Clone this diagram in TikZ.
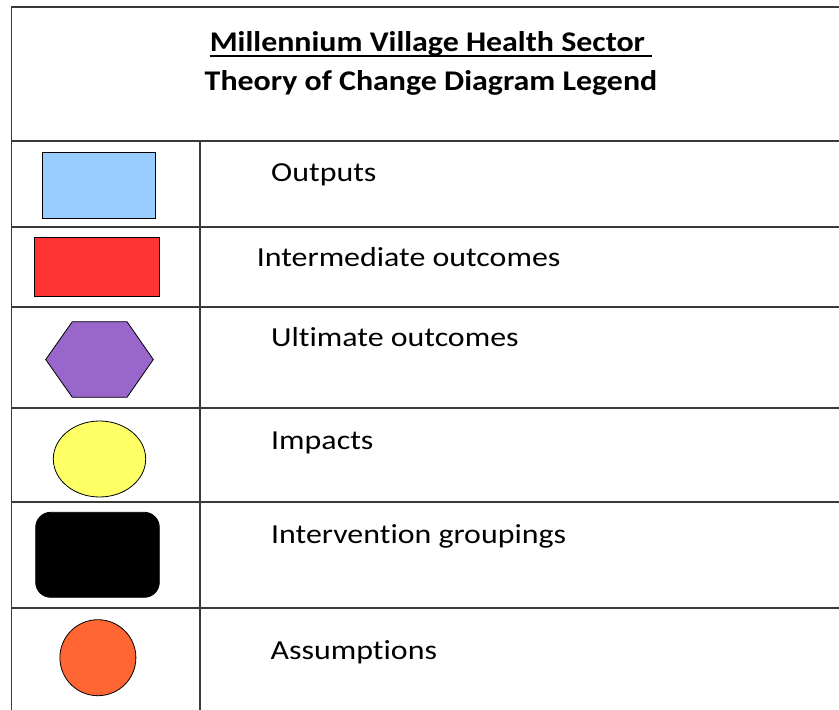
\documentclass[tikz,border=0pt]{standalone}
\usepackage{fontspec}
\setmainfont{Carlito}[Ligatures=NoCommon, FakeStretch=1.16, BoldFeatures={FakeStretch=1.12}]
\usetikzlibrary{shapes.geometric}
\definecolor{outblue}{HTML}{99CCFF}
\definecolor{interred}{HTML}{FF3333}
\definecolor{ultpurple}{HTML}{9966CC}
\definecolor{impyellow}{HTML}{FFFF66}
\definecolor{assorange}{HTML}{FF6633}
\definecolor{gridgray}{HTML}{3A3A3A}
\newcommand\myuline[1]{\setbox0\hbox{#1}\rlap{\vrule height -3.2bp depth 5.2bp width \wd0}\box0}
\tikzset{
  gridline/.style={draw=gridgray, line width=1.6bp},
  legshape/.style={draw=black, line width=0.8bp, inner sep=0pt, outer sep=0pt},
  legtext/.style={anchor=base west, inner sep=0pt, font=\fontsize{27.5bp}{33bp}\selectfont},
  titletext/.style={anchor=base, inner sep=0pt, font=\fontsize{28.5bp}{34bp}\selectfont\bfseries}
}
\begin{document}
\begin{tikzpicture}[x=1bp,y=-1bp]
\useasboundingbox (0,0) rectangle (839,710);
% table grid
\draw[gridline] (839,7) -- (11.5,7) -- (11.5,710);
\draw[gridline] (11.5,141) -- (839,141);
\draw[gridline] (200,141) -- (200,710);
\foreach \yy in {227,307,408,502,608} \draw[gridline] (11.5,\yy) -- (839,\yy);
% title
\node[titletext] (t1) at (431,51.7) {\myuline{Millennium Village Health Sector\ }};
\node[titletext] (t2) at (431,90.7) {Theory of Change Diagram Legend};
% shapes
\node[legshape, rectangle, fill=outblue, minimum width=113.4bp, minimum height=66bp] (s1) at (99,185.3) {};
\node[legshape, rectangle, fill=interred, minimum width=125.7bp, minimum height=59bp] (s2) at (96.8,266.8) {};
\filldraw[legshape, fill=ultpurple] (45.7,359.5) -- (72.3,321.7) -- (127,321.7) -- (153.3,359.5) -- (127,397.3) -- (72.3,397.3) -- cycle;
\node[legshape, ellipse, fill=impyellow, minimum width=92.4bp, minimum height=76bp] (s4) at (99.5,459) {};
\node[legshape, rectangle, rounded corners=15bp, fill=black, minimum width=123.6bp, minimum height=85bp] (s5) at (97.5,554.8) {};
\node[legshape, circle, fill=assorange, minimum size=76bp] (s6) at (97.9,657.7) {};
% labels
\node[legtext] (l1) at (271,181) {Outputs};
\node[legtext] (l2) at (256.7,266.7) {Intermediate outcomes};
\node[legtext] (l3) at (271,346.7) {Ultimate outcomes};
\node[legtext] (l4) at (271,449.3) {Impacts};
\node[legtext] (l5) at (271,543.3) {Intervention groupings};
\node[legtext] (l6) at (270.5,659.3) {Assumptions};
\end{tikzpicture}
\end{document}
